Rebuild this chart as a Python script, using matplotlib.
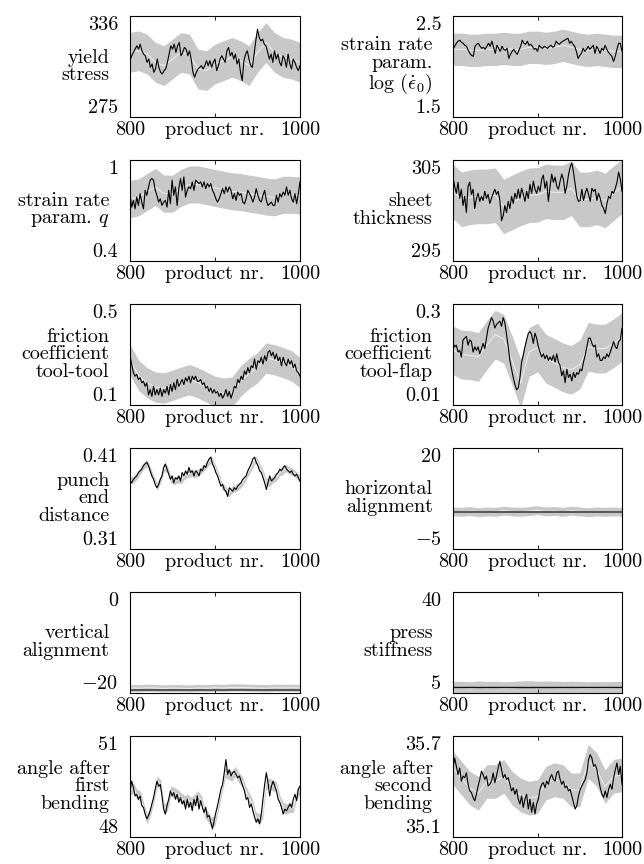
import numpy as np
import matplotlib
matplotlib.use("Agg")
import matplotlib.pyplot as plt

plt.rcParams['font.family'] = 'serif'
plt.rcParams['font.serif'] = ['cmr10']
plt.rcParams['mathtext.fontset'] = 'cm'
plt.rcParams['axes.formatter.use_mathtext'] = True

FS = 14.5

# ---------------- data ----------------
x_range = [800, 1000]
x_tick_labels = ['800', 'product nr.', '1000']

yield_true = [309, 312, 314, 316, 318, 316, 319, 315, 313, 312, 308, 310, 305, 307, 302, 304, 310, 305, 302, 301,
              303, 304, 308, 313, 318, 316, 319, 314, 318, 320, 312, 314, 317, 316, 312, 315, 310, 302, 299, 302,
              304, 305, 306, 304, 306, 309, 306, 309, 305, 308, 310, 303, 306, 310, 312, 310, 308, 315, 317, 312,
              314, 310, 313, 307, 310, 302, 297, 309, 313, 315, 310, 306, 305, 313, 321, 328, 323, 321, 322, 319,
              318, 314, 310, 313, 308, 315, 310, 313, 308, 306, 312, 310, 305, 313, 307, 304, 310, 308, 305, 303, 306]
yield_est = [314, 315, 313, 308, 306, 310, 314, 313, 304, 303, 307, 309, 311, 309, 306, 314, 320, 314, 311, 310, 308]
yield_hw = 12

logeps_true = [2.17, 2.20, 2.23, 2.25, 2.26, 2.24, 2.23, 2.21, 2.20, 2.16, 2.13, 2.11, 2.10, 2.20, 2.22, 2.23, 2.20,
               2.18, 2.19, 2.17, 2.20, 2.23, 2.20, 2.25, 2.19, 2.13, 2.21, 2.18, 2.15, 2.20, 2.17, 2.16, 2.18, 2.08,
               2.12, 2.15, 2.17, 2.14, 2.12, 2.16, 2.20, 2.26, 2.23, 2.22, 2.25, 2.21, 2.22, 2.20, 2.17, 2.18, 2.15,
               2.21, 2.19, 2.18, 2.20, 2.19, 2.18, 2.20, 2.21, 2.19, 2.20, 2.25, 2.23, 2.22, 2.24, 2.25, 2.26, 2.27,
               2.28, 2.23, 2.25, 2.22, 2.20, 2.15, 2.08, 2.11, 2.13, 2.18, 2.15, 2.17, 2.20, 2.17, 2.19, 2.21, 2.13,
               2.20, 2.17, 2.13, 2.18, 2.16, 2.21, 2.17, 2.14, 2.12, 2.10, 2.05, 2.10, 2.17, 2.23, 2.23, 2.15]
logeps_est = [2.17, 2.17, 2.16, 2.16, 2.17, 2.17, 2.18, 2.17, 2.17, 2.19, 2.19, 2.18, 2.19, 2.21, 2.19, 2.17, 2.16,
              2.17, 2.16, 2.15, 2.15]
logeps_hw = 0.16

q_true = [0.80, 0.72, 0.76, 0.71, 0.78, 0.73, 0.80, 0.75, 0.71, 0.82, 0.79, 0.84, 0.88, 0.89, 0.88, 0.82, 0.79, 0.75,
          0.77, 0.73, 0.75, 0.76, 0.72, 0.82, 0.74, 0.88, 0.79, 0.84, 0.73, 0.83, 0.89, 0.82, 0.90, 0.78, 0.82, 0.84,
          0.83, 0.87, 0.82, 0.88, 0.87, 0.86, 0.87, 0.84, 0.87, 0.83, 0.86, 0.84, 0.86, 0.82, 0.80, 0.77, 0.75, 0.77,
          0.80, 0.83, 0.80, 0.84, 0.81, 0.84, 0.82, 0.77, 0.80, 0.76, 0.81, 0.79, 0.80, 0.75, 0.74, 0.77, 0.82, 0.80,
          0.78, 0.75, 0.78, 0.83, 0.79, 0.76, 0.75, 0.79, 0.82, 0.76, 0.73, 0.74, 0.75, 0.73, 0.73, 0.79, 0.75, 0.80,
          0.78, 0.81, 0.79, 0.84, 0.79, 0.82, 0.77, 0.75, 0.80, 0.74, 0.80, 0.87]
q_est = [0.768, 0.778, 0.81, 0.84, 0.80, 0.80, 0.834, 0.855, 0.855, 0.845, 0.834, 0.824, 0.814, 0.81, 0.80, 0.793,
         0.783, 0.778, 0.793, 0.793, 0.79]
q_hw = 0.11

sheet_true = [303.3, 302.4, 301.7, 302.8, 301.2, 302.1, 300.5, 301.4, 299.8, 302.4, 302.8, 301.6, 302.1, 300.2, 301.2,
              301.7, 300.9, 301.4, 301.0, 301.9, 301.2, 301.6, 300.7, 301.2, 301.7, 302.1, 301.6, 301.9, 301.0, 299.0,
              299.5, 300.5, 299.8, 300.9, 300.2, 301.4, 300.7, 301.7, 301.2, 302.1, 301.2, 302.2, 301.6, 300.9, 301.9,
              301.2, 302.6, 301.7, 302.9, 302.1, 301.7, 302.4, 301.9, 303.1, 303.5, 302.2, 302.9, 300.9, 302.4, 303.6,
              302.8, 303.3, 302.4, 302.1, 302.9, 303.6, 303.1, 301.7, 302.4, 303.5, 304.3, 304.7, 303.8, 302.6, 301.4,
              300.9, 301.0, 302.1, 301.0, 301.7, 302.2, 301.6, 300.9, 302.2, 301.9, 302.1, 301.0, 301.7, 301.2, 300.5,
              300.2, 299.7, 300.7, 301.4, 301.2, 301.9, 301.7, 302.2, 302.8, 303.8, 303.1, 301.9]
sheet_est = [301.9, 301.1, 301.3, 301.4, 301.4, 301.5, 300.4, 300.8, 301.2, 301.5, 301.55, 301.9, 301.8, 301.8,
             302.2, 301.1, 301.1, 301.3, 301.0, 301.7, 302.4]
sheet_hw = 2.7

ftt_true = [0.295, 0.262, 0.228, 0.214, 0.221, 0.201, 0.208, 0.188, 0.194, 0.174, 0.188, 0.140, 0.161, 0.134, 0.174,
            0.140, 0.161, 0.140, 0.167, 0.134, 0.161, 0.147, 0.174, 0.140, 0.181, 0.154, 0.188, 0.161, 0.201, 0.174,
            0.188, 0.201, 0.181, 0.208, 0.194, 0.214, 0.188, 0.214, 0.201, 0.214, 0.194, 0.194, 0.201, 0.181, 0.188,
            0.167, 0.174, 0.154, 0.167, 0.147, 0.161, 0.147, 0.154, 0.134, 0.147, 0.127, 0.140, 0.161, 0.134, 0.154,
            0.127, 0.147, 0.174, 0.167, 0.201, 0.188, 0.214, 0.201, 0.235, 0.221, 0.248, 0.228, 0.255, 0.248, 0.282,
            0.241, 0.275, 0.268, 0.289, 0.262, 0.295, 0.275, 0.309, 0.316, 0.295, 0.309, 0.282, 0.302, 0.275, 0.289,
            0.255, 0.289, 0.268, 0.255, 0.282, 0.262, 0.275, 0.248, 0.262, 0.235, 0.228, 0.214]
ftt_est = [0.279, 0.218, 0.188, 0.171, 0.167, 0.178, 0.190, 0.200, 0.188, 0.171, 0.154, 0.147, 0.151, 0.194, 0.225,
           0.248, 0.286, 0.279, 0.268, 0.255, 0.228]
ftt_hw = 0.06

ftf_true = [0.187, 0.177, 0.182, 0.162, 0.167, 0.148, 0.197, 0.202, 0.207, 0.182, 0.197, 0.192, 0.162, 0.177, 0.167,
            0.177, 0.157, 0.172, 0.187, 0.172, 0.202, 0.231, 0.246, 0.261, 0.251, 0.231, 0.241, 0.246, 0.251, 0.236,
            0.261, 0.246, 0.212, 0.177, 0.138, 0.113, 0.089, 0.069, 0.054, 0.059, 0.089, 0.133, 0.153, 0.177, 0.197,
            0.216, 0.221, 0.212, 0.187, 0.216, 0.202, 0.177, 0.162, 0.148, 0.157, 0.143, 0.153, 0.138, 0.148, 0.138,
            0.153, 0.133, 0.157, 0.133, 0.123, 0.094, 0.108, 0.074, 0.113, 0.089, 0.098, 0.079, 0.103, 0.089, 0.103,
            0.098, 0.113, 0.108, 0.133, 0.153, 0.177, 0.202, 0.202, 0.187, 0.177, 0.182, 0.148, 0.157, 0.138, 0.138,
            0.148, 0.143, 0.157, 0.148, 0.162, 0.177, 0.192, 0.177, 0.172, 0.192, 0.197, 0.231]
ftf_est = [0.167, 0.155, 0.153, 0.148, 0.182, 0.212, 0.200, 0.138, 0.072, 0.162, 0.175, 0.143, 0.131, 0.118, 0.111,
           0.126, 0.177, 0.172, 0.172, 0.187, 0.205]
ftf_hw = 0.07

punch_true = [0.3773, 0.3756, 0.3790, 0.3807, 0.3824, 0.3857, 0.3874, 0.3891, 0.3925, 0.3942, 0.3958, 0.3925, 0.3874,
              0.3824, 0.3790, 0.3739, 0.3706, 0.3739, 0.3790, 0.3824, 0.3908, 0.3942, 0.3891, 0.3841, 0.3790, 0.3824,
              0.3756, 0.3807, 0.3790, 0.3824, 0.3773, 0.3857, 0.3824, 0.3874, 0.3841, 0.3908, 0.3857, 0.3874, 0.3824,
              0.3874, 0.3857, 0.3824, 0.3891, 0.3874, 0.3925, 0.3908, 0.3958, 0.3992, 0.4009, 0.3942, 0.3908, 0.3857,
              0.3824, 0.3773, 0.3723, 0.3739, 0.3689, 0.3672, 0.3621, 0.3706, 0.3689, 0.3672, 0.3706, 0.3689, 0.3723,
              0.3739, 0.3756, 0.3790, 0.3807, 0.3824, 0.3874, 0.3908, 0.3942, 0.3992, 0.4009, 0.3958, 0.3925, 0.3874,
              0.3857, 0.3807, 0.3756, 0.3689, 0.3756, 0.3824, 0.3773, 0.3790, 0.3807, 0.3841, 0.3857, 0.3891, 0.3874,
              0.3908, 0.3925, 0.3891, 0.3874, 0.3857, 0.3874, 0.3841, 0.3824, 0.3841, 0.3807, 0.3773]
punch_est = [0.3773, 0.3790, 0.3824, 0.3874, 0.3925, 0.3950, 0.3874, 0.3790, 0.3720, 0.3790, 0.3900, 0.3891, 0.3790,
             0.3770, 0.3790, 0.3780, 0.3824, 0.3841, 0.3857, 0.3840, 0.3857, 0.3880, 0.3920, 0.3958, 0.3990, 0.3908,
             0.3824, 0.3730, 0.3689, 0.3650, 0.3689, 0.3700, 0.3723, 0.3756, 0.3807, 0.3874, 0.3930, 0.3990, 0.3925,
             0.3857, 0.3770, 0.3756, 0.3790, 0.3807, 0.3857, 0.3874, 0.3900, 0.3874, 0.3860, 0.3830, 0.3790]
punch_hw = 0.0035

halign_true = [4.2, 4.2]
halign_est = [4.3, 4.2, 4.4, 4.1, 4.3, 4.2, 4.5, 4.3, 4.2, 4.4, 4.6, 4.3, 4.4, 4.2, 4.5, 4.3, 4.1, 4.3, 4.2, 4.3, 4.2]
halign_hw = 1.1

valign_true = [-19.4, -19.4]
valign_est = [-19.0, -19.05, -18.95, -19.0, -19.1, -19.0, -19.05, -19.1, -19.0, -19.05, -18.95, -19.0, -18.9,
              -18.9, -18.95, -19.0, -19.05, -18.95, -19.0, -18.95, -19.0]
valign_hw = 0.7

press_true = [7.1, 7.1]
press_est = [6.7, 6.8, 6.6, 6.9, 6.7, 6.8, 6.6, 6.7, 6.9, 7.0, 6.8, 6.9, 6.8, 6.7, 6.8, 6.7, 6.6, 6.7, 6.6, 6.7, 6.7]
press_hw = 2.3

ang1_true = [49.37, 49.66, 49.47, 49.22, 49.27, 49.12, 49.22, 48.93, 48.88, 48.68, 48.54, 48.64, 48.78, 48.98, 49.17,
             49.42, 49.66, 49.51, 49.56, 49.22, 48.83, 48.68, 48.93, 49.12, 49.37, 49.22, 49.32, 49.12, 49.27, 49.03,
             49.17, 48.98, 49.08, 48.83, 49.12, 48.88, 49.03, 48.78, 49.12, 48.93, 49.22, 48.83, 49.08, 48.88, 48.73,
             48.88, 48.59, 48.64, 48.44, 48.24, 48.49, 48.73, 48.93, 49.17, 49.42, 49.56, 49.91, 50.30, 49.86, 50.00,
             49.81, 49.91, 49.95, 49.86, 49.76, 49.81, 49.66, 49.51, 49.37, 49.12, 49.17, 48.88, 48.98, 48.78, 48.59,
             48.44, 48.54, 48.39, 48.68, 49.12, 49.56, 49.91, 49.61, 49.22, 49.51, 49.66, 49.51, 49.37, 49.12, 49.03,
             48.88, 48.68, 48.83, 48.78, 48.88, 48.98, 48.88, 49.12, 49.27, 49.08, 49.42, 49.51]
ang1_est = [49.37, 49.47, 49.27, 49.22, 48.88, 48.54, 48.78, 49.17, 49.66, 49.56, 48.83, 48.93, 49.37, 49.32, 49.27,
            49.17, 49.08, 49.12, 49.03, 49.12, 49.22, 49.08, 48.73, 48.59, 48.44, 48.49, 48.93, 49.42, 49.91, 49.86,
            49.81, 49.95, 49.76, 49.66, 49.37, 49.17, 48.98, 48.59, 48.54, 48.68, 49.56, 49.61, 49.51, 49.51, 49.12,
            48.88, 48.83, 48.88, 48.88, 49.27, 49.42]
ang1_hw = 0.15

ang2_true = [35.510, 35.569, 35.520, 35.471, 35.510, 35.432, 35.462, 35.452, 35.481, 35.413, 35.374, 35.364, 35.335,
             35.315, 35.354, 35.403, 35.442, 35.491, 35.471, 35.442, 35.462, 35.403, 35.413, 35.432, 35.481, 35.423,
             35.462, 35.510, 35.550, 35.500, 35.452, 35.471, 35.442, 35.452, 35.413, 35.374, 35.393, 35.354, 35.383,
             35.325, 35.296, 35.344, 35.276, 35.325, 35.354, 35.266, 35.325, 35.247, 35.305, 35.237, 35.296, 35.325,
             35.383, 35.413, 35.423, 35.393, 35.432, 35.413, 35.452, 35.471, 35.442, 35.432, 35.481, 35.491, 35.442,
             35.413, 35.432, 35.393, 35.403, 35.374, 35.383, 35.344, 35.305, 35.266, 35.286, 35.344, 35.383, 35.403,
             35.423, 35.442, 35.481, 35.559, 35.589, 35.569, 35.520, 35.530, 35.500, 35.442, 35.393, 35.354, 35.335,
             35.374, 35.335, 35.383, 35.413, 35.383, 35.452, 35.500, 35.540, 35.471, 35.520, 35.413]
ang2_est = [35.51, 35.45, 35.39, 35.36, 35.43, 35.43, 35.46, 35.39, 35.35, 35.33, 35.34, 35.42, 35.44, 35.43, 35.38,
            35.38, 35.55, 35.50, 35.40, 35.46, 35.47]
ang2_hw = 0.1

labels = ['yield\nstress', 'strain rate\nparam.\n$\\log\\,(\\dot{\\epsilon}_0)$',
          'strain rate\nparam. $q$', 'sheet\nthickness',
          'friction\ncoefficient\ntool-tool', 'friction\ncoefficient\ntool-flap',
          'punch\nend\ndistance', 'horizontal\nalignment',
          'vertical\nalignment', 'press\nstiffness',
          'angle after\nfirst\nbending', 'angle after\nsecond\nbending']
ylims = [(275, 336), (1.5, 2.5), (0.4, 1.0), (295, 305), (0.1, 0.5), (0.01, 0.3),
         (0.31, 0.41), (-5, 20), (-20, 0), (5, 40), (48, 51), (35.1, 35.7)]
ytick_text = [('275', '336'), ('1.5', '2.5'), ('0.4', '1'), ('295', '305'), ('0.1', '0.5'), ('0.01', '0.3'),
              ('0.31', '0.41'), ('$-5$', '20'), ('$-20$', '0'), ('5', '40'), ('48', '51'), ('35.1', '35.7')]

trues = [yield_true, logeps_true, q_true, sheet_true, ftt_true, ftf_true,
         punch_true, halign_true, valign_true, press_true, ang1_true, ang2_true]
ests = [yield_est, logeps_est, q_est, sheet_est, ftt_est, ftf_est,
        punch_est, halign_est, valign_est, press_est, ang1_est, ang2_est]
hws = [yield_hw, logeps_hw, q_hw, sheet_hw, ftt_hw, ftf_hw,
       punch_hw, halign_hw, valign_hw, press_hw, ang1_hw, ang2_hw]
true_colors = ['k'] * 7 + ['#555555', '#555555', '#111111'] + ['k', 'k']
true_widths = [0.8] * 7 + [1.4, 1.4, 1.0] + [0.8, 0.8]

# ---------------- layout ----------------
W, H = 644, 864
fig = plt.figure(figsize=(W / 100, H / 100), dpi=100)
col_left = [130, 453]
col_width = [170, 169]
row_top0, row_step, ax_h = 16, 144, 101

for i in range(12):
    r, c = divmod(i, 2)
    top = row_top0 + r * row_step
    ax = fig.add_axes([col_left[c] / W, 1 - (top + ax_h) / H, col_width[c] / W, ax_h / H])
    est = np.array(ests[i], dtype=float)
    tr = np.array(trues[i], dtype=float)
    xe = np.linspace(x_range[0], x_range[1], len(est))
    xt = np.linspace(x_range[0], x_range[1], len(tr))
    ax.fill_between(xe, est - hws[i], est + hws[i], color='#c8c8c8', lw=0)
    ax.plot(xe, est, color='#eeeeee', lw=0.7)
    ax.plot(xt, tr, color=true_colors[i], lw=true_widths[i])
    ax.set_xlim(*x_range)
    ax.set_ylim(*ylims[i])
    ax.set_xticks([800, 900, 1000])
    ax.set_xticklabels(x_tick_labels, fontsize=FS)
    ax.set_yticks(list(ylims[i]))
    ax.set_yticklabels(list(ytick_text[i]), fontsize=FS)
    ytl = ax.get_yticklabels()
    ytl[0].set_va('bottom')
    ytl[1].set_va('top')
    ax.tick_params(axis='x', direction='in', length=3, width=0.6, top=True, pad=3)
    ax.tick_params(axis='y', direction='in', length=3, width=0.6, right=True, pad=8.5)
    for s in ax.spines.values():
        s.set_linewidth(0.8)
    ax.text(-0.12, 0.5, labels[i], transform=ax.transAxes, ha='right', va='center',
            multialignment='right', fontsize=FS, linespacing=1.0)

fig.savefig('out.png', dpi=100)
